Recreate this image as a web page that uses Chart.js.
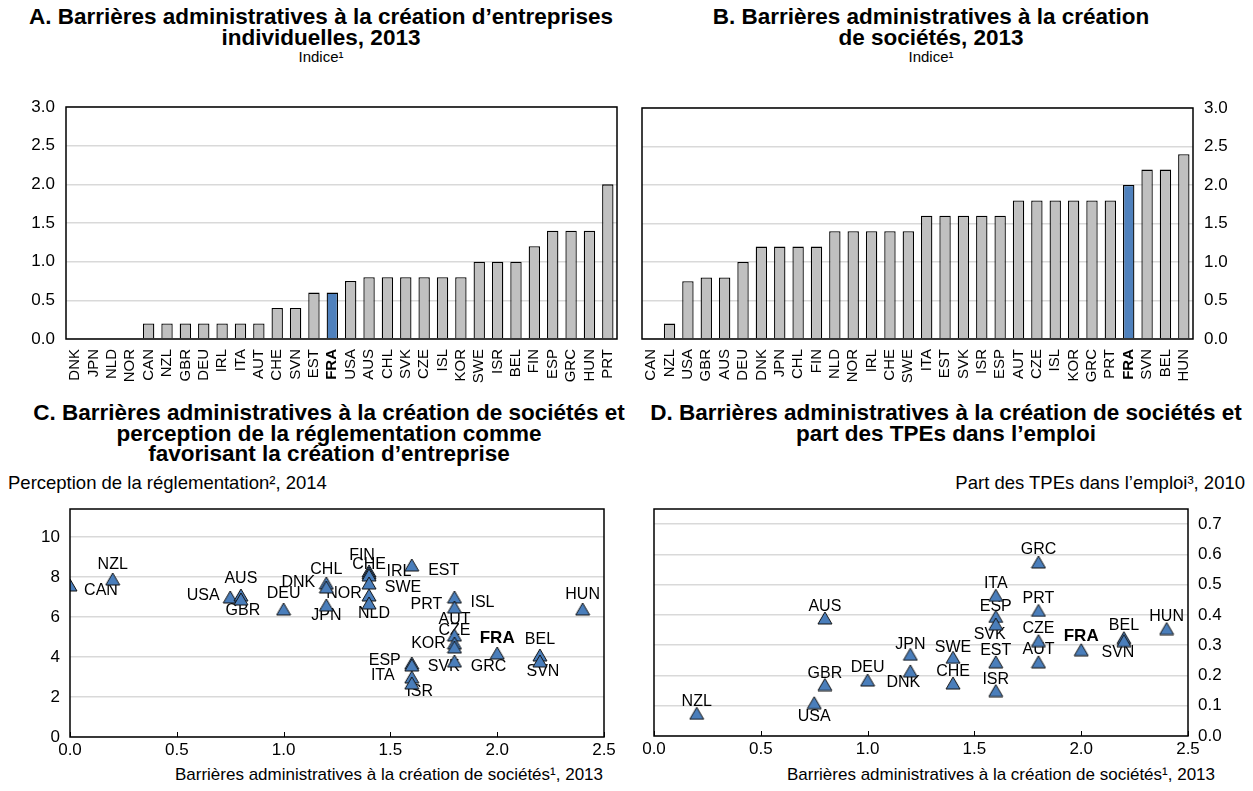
<!DOCTYPE html>
<html>
<head>
<meta charset="utf-8">
<script src="https://cdn.jsdelivr.net/npm/chart.js@4.4.1/dist/chart.umd.min.js"></script>
<style>
  body { margin: 0; background: #fff; }
  #page { position: relative; width: 1253px; height: 791px; overflow: hidden;
          font-family: "Liberation Sans", Arial, sans-serif; color: #000; }
  .chart { position: absolute; }
  .title { position: absolute; text-align: center; font-weight: bold; font-size: 22.5px; line-height: 21px; white-space: nowrap; }
  .sub { position: absolute; text-align: center; font-size: 15px; line-height: 16px; }
  .cap { position: absolute; font-size: 18.5px; line-height: 20px; white-space: nowrap; }
  .xcap { position: absolute; font-size: 17px; line-height: 20px; white-space: nowrap; }
</style>
</head>
<body>
<div id="page">
  <div class="title" style="left:0;width:642px;top:6px;">A. Barrières administratives à la création d’entreprises<br>individuelles, 2013</div>
  <div class="sub" style="left:0;width:642px;top:49px;">Indice¹</div>
  <div class="title" style="left:620px;width:622px;top:6px;">B. Barrières administratives à la création<br>de sociétés, 2013</div>
  <div class="sub" style="left:620px;width:622px;top:49px;">Indice¹</div>

  <div class="title" style="left:0;width:658px;top:403px;line-height:20.5px;">C. Barrières administratives à la création de sociétés et<br>perception de la réglementation comme<br>favorisant la création d’entreprise</div>
  <div class="cap" style="left:8px;top:473px;">Perception de la réglementation², 2014</div>
  <div class="title" style="left:620px;width:652px;top:403px;line-height:20.5px;">D. Barrières administratives à la création de sociétés et<br>part des TPEs dans l’emploi</div>
  <div class="cap" style="right:8px;top:473px;">Part des TPEs dans l’emploi³, 2010</div>

  <div class="xcap" style="right:650px;top:765px;">Barrières administratives à la création de sociétés¹, 2013</div>
  <div class="xcap" style="right:38px;top:765px;">Barrières administratives à la création de sociétés¹, 2013</div>

  <canvas id="chartA" class="chart" width="640" height="305" style="left:0;top:90px;"></canvas>
  <canvas id="chartB" class="chart" width="633" height="305" style="left:620px;top:90px;"></canvas>
  <canvas id="chartC" class="chart" width="640" height="296" style="left:0;top:495px;"></canvas>
  <canvas id="chartD" class="chart" width="633" height="296" style="left:620px;top:495px;"></canvas>
</div>

<script>
// Panel A: sole proprietorships
const countriesA = ['DNK','JPN','NLD','NOR','CAN','NZL','GBR','DEU','IRL','ITA','AUT','CHE','SVN','EST','FRA',
                    'USA','AUS','CHL','SVK','CZE','ISL','KOR','SWE','ISR','BEL','FIN','ESP','GRC','HUN','PRT'];
const valuesA = [0, 0, 0, 0, 0.2, 0.2, 0.2, 0.2, 0.2, 0.2, 0.2, 0.4, 0.4, 0.6, 0.6,
                 0.75, 0.8, 0.8, 0.8, 0.8, 0.8, 0.8, 1.0, 1.0, 1.0, 1.2, 1.4, 1.4, 1.4, 2.0];

// Panel B: companies
const countriesB = ['CAN','NZL','USA','GBR','AUS','DEU','DNK','JPN','CHL','FIN','NLD','NOR','IRL','CHE','SWE',
                    'ITA','EST','SVK','ISR','ESP','AUT','CZE','ISL','KOR','GRC','PRT','FRA','SVN','BEL','HUN'];
const valuesB = [0, 0.2, 0.75, 0.8, 0.8, 1.0, 1.2, 1.2, 1.2, 1.2, 1.4, 1.4, 1.4, 1.4, 1.4,
                 1.6, 1.6, 1.6, 1.6, 1.6, 1.8, 1.8, 1.8, 1.8, 1.8, 1.8, 2.0, 2.2, 2.2, 2.4];

// Panel C: barriers vs. perception of regulation
const countriesC = ['CAN','NZL','USA','AUS','GBR','DEU','CHL','DNK','JPN','FIN','CHE','IRL','SWE','NOR','NLD',
                    'EST','ISL','PRT','AUT','CZE','KOR','GRC','ESP','SVK','ITA','ISR','FRA','BEL','SVN','HUN'];
const barrierC = [0, 0.2, 0.75, 0.8, 0.8, 1.0, 1.2, 1.2, 1.2, 1.4, 1.4, 1.4, 1.4, 1.4, 1.4,
                  1.6, 1.8, 1.8, 1.8, 1.8, 1.8, 1.8, 1.6, 1.6, 1.6, 1.6, 2.0, 2.2, 2.2, 2.4];
const perceptionC = [7.6, 7.9, 7.0, 7.1, 6.9, 6.4, 7.7, 7.5, 6.6, 8.3, 8.2, 8.1, 7.7, 7.1, 6.7,
                     8.6, 7.0, 6.5, 5.1, 4.7, 4.5, 3.8, 3.7, 3.6, 3.0, 2.7, 4.2, 4.1, 3.8, 6.4];

// Panel D: barriers vs. share of micro-enterprises in employment
const countriesD = ['NZL','USA','GBR','AUS','DEU','JPN','DNK','SWE','CHE','ITA','ESP','SVK','EST','ISR',
                    'GRC','PRT','CZE','AUT','FRA','BEL','SVN','HUN'];
const barrierD = [0.2, 0.75, 0.8, 0.8, 1.0, 1.2, 1.2, 1.4, 1.4, 1.6, 1.6, 1.6, 1.6, 1.6,
                  1.8, 1.8, 1.8, 1.8, 2.0, 2.2, 2.2, 2.4];
const microShareD = [0.075, 0.11, 0.17, 0.39, 0.185, 0.27, 0.215, 0.26, 0.175, 0.465, 0.395, 0.37, 0.245, 0.15,
                     0.575, 0.415, 0.315, 0.245, 0.285, 0.325, 0.315, 0.355];

// Tick values
const indexTicks = [0, 0.5, 1, 1.5, 2, 2.5, 3];
const barrierTicks = [0, 0.5, 1, 1.5, 2, 2.5];
const perceptionTicks = [0, 2, 4, 6, 8, 10];
const shareTicks = [0, 0.1, 0.2, 0.3, 0.4, 0.5, 0.6, 0.7];

const highlight = 'FRA';
const FONT = '"Liberation Sans", Arial, sans-serif';

// Label offsets (text centre relative to the marker, px)
const labelOffsetC = {
  CAN:[31,6], NZL:[0,-14], USA:[-27,-1], AUS:[0,-16], GBR:[2,12], DEU:[0,-15],
  CHL:[0,-13], DNK:[-28,-4], JPN:[0,11], FIN:[-7,-15], CHE:[0,-8], IRL:[30,-3],
  SWE:[34,5], NOR:[-25,-1], NLD:[5,11], EST:[32,6], ISL:[28,6], PRT:[-28,-2],
  AUT:[0,-15], CZE:[0,-12], KOR:[-26,-3], GRC:[34,6], ESP:[-27,-2], SVK:[32,2],
  ITA:[-29,-1], ISR:[8,9], FRA:[0,-15], BEL:[0,-15], SVN:[3,11], HUN:[0,-14]
};
const labelOffsetD = {
  NZL:[0,-12], USA:[0,14], GBR:[0,-11], AUS:[0,-11], DEU:[0,-12], JPN:[0,-10],
  DNK:[-7,12], SWE:[0,-10], CHE:[0,-11], ITA:[0,-12], ESP:[0,-10], SVK:[-6,11],
  EST:[0,-11], ISR:[0,-11], GRC:[0,-12], PRT:[0,-12], CZE:[0,-12], AUT:[0,-12],
  FRA:[0,-13], BEL:[0,-12], SVN:[-6,12], HUN:[0,-12]
};

Chart.defaults.font.family = FONT;
Chart.defaults.color = '#000';
Chart.defaults.animation = false;

// Triangle marker, centred on its bounding box
function triangleMarker() {
  const c = document.createElement('canvas');
  c.width = 16; c.height = 14;
  const g = c.getContext('2d');
  g.beginPath();
  g.moveTo(8, 1); g.lineTo(15, 13); g.lineTo(1, 13); g.closePath();
  g.fillStyle = '#4a7ebb';
  g.fill();
  g.strokeStyle = '#111';
  g.lineWidth = 1;
  g.stroke();
  return c;
}
const marker = triangleMarker();

// Black box around the plot area, optional inward ticks on the x axis
const framePlugin = {
  id: 'frame',
  afterDraw(chart, args, opts) {
    const { ctx, chartArea: a } = chart;
    ctx.save();
    ctx.strokeStyle = '#000';
    ctx.lineWidth = 1.5;
    ctx.strokeRect(a.left, a.top, a.right - a.left, a.bottom - a.top);
    if (opts.innerTicks) {
      const xs = chart.scales.x;
      ctx.lineWidth = 1;
      xs.ticks.forEach(t => {
        const px = Math.round(xs.getPixelForValue(t.value)) + 0.5;
        ctx.beginPath();
        ctx.moveTo(px, a.bottom);
        ctx.lineTo(px, a.bottom - 5);
        ctx.stroke();
      });
    }
    ctx.restore();
  }
};

// Country codes next to each marker
const pointLabels = {
  id: 'pointLabels',
  beforeDatasetsDraw(chart, args, opts) {
    if (!opts.names) return;
    const meta = chart.getDatasetMeta(0);
    const ctx = chart.ctx;
    ctx.save();
    ctx.textAlign = 'center';
    ctx.textBaseline = 'middle';
    ctx.fillStyle = '#000';
    meta.data.forEach((el, i) => {
      const name = opts.names[i];
      const off = opts.offsets[name] || [0, -12];
      ctx.font = (name === highlight ? 'bold 17px ' : '16px ') + FONT;
      ctx.fillText(name, el.x + off[0], el.y + off[1]);
    });
    ctx.restore();
  }
};

function fixedTicks(values) {
  return scale => { scale.ticks = values.map(v => ({ value: v })); };
}
// Fixed axis sizes, without the extra room Chart.js reserves for edge labels
function fixedWidth(w) {
  return s => { s.width = w; s.paddingTop = 0; s.paddingBottom = 0; };
}
function fixedHeight(h) {
  return s => { s.height = h; s.paddingLeft = 0; s.paddingRight = 0; };
}

function barChart(id, names, values, yPos, yWidth, padding) {
  return new Chart(document.getElementById(id), {
    type: 'bar',
    data: {
      labels: names,
      datasets: [{
        data: values,
        backgroundColor: names.map(n => n === highlight ? '#4f81bd' : '#c0c0c0'),
        borderColor: '#000',
        borderWidth: 1.3,
        borderSkipped: 'bottom',
        barPercentage: 0.62,
        categoryPercentage: 1
      }]
    },
    options: {
      responsive: false,
      layout: { padding },
      plugins: { legend: { display: false }, tooltip: { enabled: false }, frame: {} },
      scales: {
        x: {
          grid: { display: false },
          border: { display: false },
          ticks: {
            autoSkip: false, minRotation: 90, maxRotation: 90, padding: 2,
            color: '#000',
            font: ctx => ({ family: FONT, size: 15, weight: ctx.tick && ctx.tick.label === highlight ? 'bold' : 'normal' })
          },
          afterFit: fixedHeight(56)
        },
        y: {
          position: yPos,
          min: 0, max: 3,
          afterBuildTicks: fixedTicks(indexTicks),
          grid: { color: '#d9d9d9', lineWidth: 1.5, drawTicks: false },
          border: { display: false },
          ticks: { padding: 11, font: { size: 17 }, callback: v => v.toFixed(1) },
          afterFit: fixedWidth(yWidth)
        }
      }
    },
    plugins: [framePlugin]
  });
}

function scatterChart(id, names, xs, ys, offsets, yOpts, yPos, yWidth, xHeight, padding) {
  return new Chart(document.getElementById(id), {
    type: 'scatter',
    data: {
      datasets: [{
        data: xs.map((x, i) => ({ x, y: ys[i] })),
        pointStyle: marker,
        pointRadius: 8,
        pointHoverRadius: 8
      }]
    },
    options: {
      responsive: false,
      layout: { padding },
      plugins: {
        legend: { display: false }, tooltip: { enabled: false },
        frame: { innerTicks: true },
        pointLabels: { names, offsets }
      },
      scales: {
        x: {
          type: 'linear', min: 0, max: 2.5,
          afterBuildTicks: fixedTicks(barrierTicks),
          grid: { display: false, drawTicks: false },
          border: { display: false },
          ticks: { padding: 3, maxRotation: 0, font: { size: 17 }, callback: v => v.toFixed(1) },
          afterFit: fixedHeight(xHeight)
        },
        y: Object.assign({
          position: yPos,
          grid: { color: '#d9d9d9', lineWidth: 1.5, drawTicks: false },
          border: { display: false },
          afterFit: fixedWidth(yWidth)
        }, yOpts)
      }
    },
    plugins: [framePlugin, pointLabels]
  });
}

barChart('chartA', countriesA, valuesA, 'left', 66, { top: 17, right: 23, left: 0, bottom: 0 });
barChart('chartB', countriesB, valuesB, 'right', 60, { top: 18, right: 0, left: 22, bottom: 0 });

scatterChart('chartC', countriesC, barrierC, perceptionC, labelOffsetC, {
  min: 0, max: 11.4,
  afterBuildTicks: fixedTicks(perceptionTicks),
  ticks: { padding: 10, font: { size: 17 } }
}, 'left', 70, 54, { top: 14, right: 36, left: 0, bottom: 0 });

scatterChart('chartD', countriesD, barrierD, microShareD, labelOffsetD, {
  min: 0, max: 0.75,
  afterBuildTicks: fixedTicks(shareTicks),
  ticks: { padding: 10, font: { size: 17 }, callback: v => v.toFixed(1) }
}, 'right', 65, 55, { top: 14, right: 0, left: 34, bottom: 0 });
</script>
</body>
</html>
